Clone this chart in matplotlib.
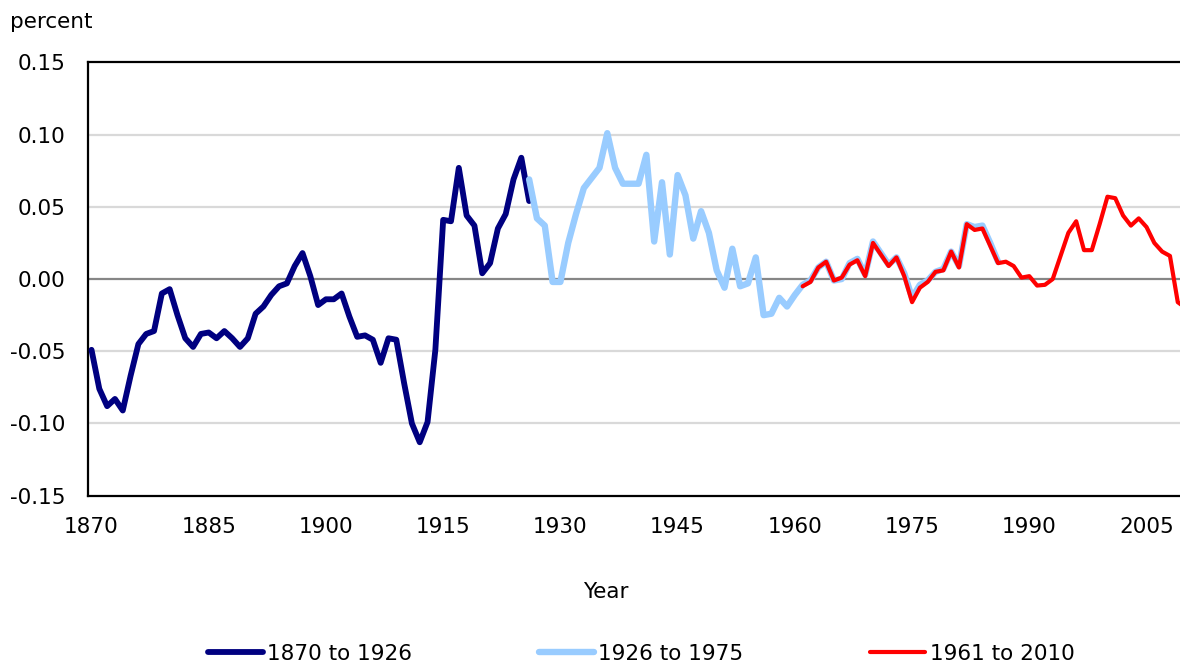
import matplotlib
matplotlib.use("Agg")
import matplotlib.pyplot as plt
import numpy as np

plt.rcParams['font.family'] = ['DejaVu Sans']
plt.rcParams['axes.unicode_minus'] = False

# ---- data ----
years_1 = list(range(1870, 1927))
vals_1 = [-0.049, -0.076, -0.088, -0.083, -0.091, -0.067, -0.045, -0.038, -0.036, -0.010,
          -0.007, -0.025, -0.041, -0.047, -0.038, -0.037, -0.041, -0.036, -0.041, -0.047,
          -0.041, -0.024, -0.019, -0.011, -0.005, -0.003, 0.009, 0.018, 0.002, -0.018,
          -0.014, -0.014, -0.010, -0.026, -0.040, -0.039, -0.042, -0.058, -0.041, -0.042,
          -0.072, -0.100, -0.113, -0.099, -0.049, 0.041, 0.040, 0.077, 0.044, 0.037,
          0.004, 0.011, 0.035, 0.045, 0.069, 0.084, 0.054]

years_2 = list(range(1926, 1987))
vals_2 = [0.069, 0.042, 0.037, -0.002, -0.002, 0.025, 0.045, 0.063, 0.070, 0.077,
          0.101, 0.077, 0.066, 0.066, 0.066, 0.086, 0.026, 0.067, 0.017, 0.072,
          0.058, 0.028, 0.047, 0.032, 0.006, -0.006, 0.021, -0.005, -0.003, 0.015,
          -0.025, -0.024, -0.013, -0.019, -0.011, -0.004, -0.001, 0.008, 0.012, -0.001,
          0.000, 0.011, 0.014, 0.003, 0.026, 0.018, 0.010, 0.015, 0.004, -0.013,
          -0.004, -0.001, 0.005, 0.007, 0.019, 0.009, 0.038, 0.036, 0.037, 0.025,
          0.012]

years_3 = list(range(1961, 2011))
vals_3 = [-0.005, -0.002, 0.008, 0.012, -0.001, 0.001, 0.010, 0.013, 0.002, 0.025,
          0.017, 0.009, 0.015, 0.002, -0.016, -0.006, -0.002, 0.005, 0.006, 0.019,
          0.008, 0.038, 0.034, 0.035, 0.023, 0.011, 0.012, 0.009, 0.001, 0.002,
          -0.0045, -0.004, 0.000, 0.016, 0.032, 0.040, 0.020, 0.020, 0.038, 0.057,
          0.056, 0.044, 0.037, 0.042, 0.036, 0.025, 0.019, 0.016, -0.016, -0.020]

labels = ["1870 to 1926", "1926 to 1975", "1961 to 2010"]
colors = ["#000080", "#99CCFF", "#FF0000"]
xticks = list(range(1870, 2006, 15))
yticks = [-0.15, -0.10, -0.05, 0.00, 0.05, 0.10, 0.15]

# ---- figure ----
W, H = 1180, 663
fig = plt.figure(figsize=(W / 100, H / 100), dpi=100)
left, right, top, bottom = 87.6, 1189.5, 62.4, 495.7
ax = fig.add_axes([left / W, 1 - bottom / H, (right - left) / W, (bottom - top) / H])

fs = 15.5
for y in yticks:
    if y == 0:
        ax.axhline(0, color="#868686", lw=1.6, zorder=1)
    elif abs(y) < 0.149:
        ax.axhline(y, color="#D9D9D9", lw=1.6, zorder=1)

ax.plot(years_1, vals_1, color=colors[0], lw=4.2, label=labels[0],
        solid_joinstyle='round', solid_capstyle='round', zorder=3)
ax.plot(years_2, vals_2, color=colors[1], lw=4.6, label=labels[1],
        solid_joinstyle='round', solid_capstyle='round', zorder=3)
ax.plot(years_3, vals_3, color=colors[2], lw=3.0, label=labels[2],
        solid_joinstyle='round', solid_capstyle='round', zorder=4)

ax.set_xlim(1869.5, 2010.5)
ax.set_ylim(-0.15, 0.15)
ax.set_xticks(xticks)
ax.set_xticklabels([str(x) for x in xticks])
ax.set_yticks(yticks)
ax.set_yticklabels(["%.2f" % y for y in yticks])
ax.tick_params(axis='both', length=0, labelsize=fs, colors='black')
ax.tick_params(axis='y', pad=16)
ax.tick_params(axis='x', pad=15)
for s in ax.spines.values():
    s.set_color('black')
    s.set_linewidth(1.6)

fig.text(10 / W, 1 - 28.5 / H, "percent", fontsize=fs, ha='left', va='baseline')
fig.text(606 / W, 1 - 598 / H, "Year", fontsize=fs, ha='center', va='baseline')

fig.legend(loc='center', bbox_to_anchor=(641 / W, 1 - 654 / H), ncol=3,
           frameon=False, fontsize=fs, handlelength=2.55, handletextpad=0.2,
           columnspacing=5.9, borderpad=0.0)

fig.savefig("out.png", dpi=100)
